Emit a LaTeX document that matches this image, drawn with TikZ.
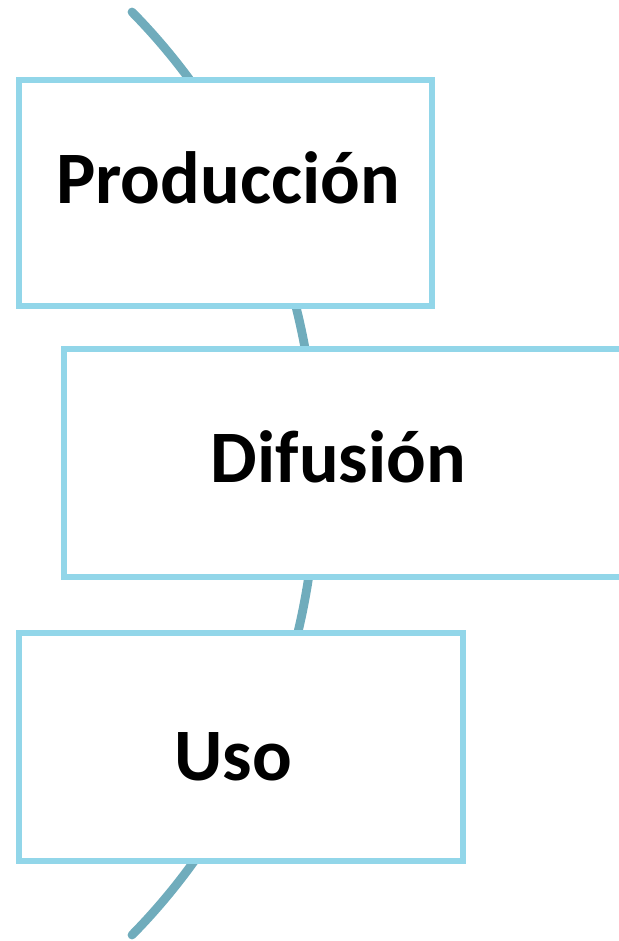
\documentclass[tikz,border=0pt]{standalone}
\usepackage{fontspec}
\setmainfont{Carlito}
\usepackage{xcolor}
\definecolor{arcteal}{RGB}{112,172,188}
\definecolor{boxblue}{RGB}{146,214,233}

\begin{document}
\begin{tikzpicture}[x=0.5pt,y=-0.5pt,
		stage/.style={draw=boxblue,fill=white,line width=3.2pt,inner sep=0pt,outer sep=0pt},
		stagetext/.style={anchor=base,inner sep=0pt,font=\fontsize{37}{44}\selectfont\bfseries}]
			  \useasboundingbox (0,0) rectangle (619,941);
			  % curve behind the boxes
			  \coordinate (top) at (132,12);
			  \coordinate (bottom) at (132,935);
			  \draw[arcteal,line width=4.4pt,line cap=round]
			    (top) .. controls (378,262) and (378,685) .. (bottom);
			  % the three stages
			  \node[stage,minimum width=206.5pt,minimum height=113pt] (produccion) at (225.5,193) {};
			  \node[stage,minimum width=279pt,minimum height=114pt] (difusion) at (343,463) {};
			  \node[stage,minimum width=222pt,minimum height=114pt] (uso) at (241,747) {};
			  \node[stagetext] (produccionlbl) at (228,204) {Producción};
			  \node[stagetext] (difusionlbl) at (338.5,482) {Difusión};
			  \node[stagetext] (usolbl) at (233,780) {Uso};
			\end{tikzpicture}
\end{document}
